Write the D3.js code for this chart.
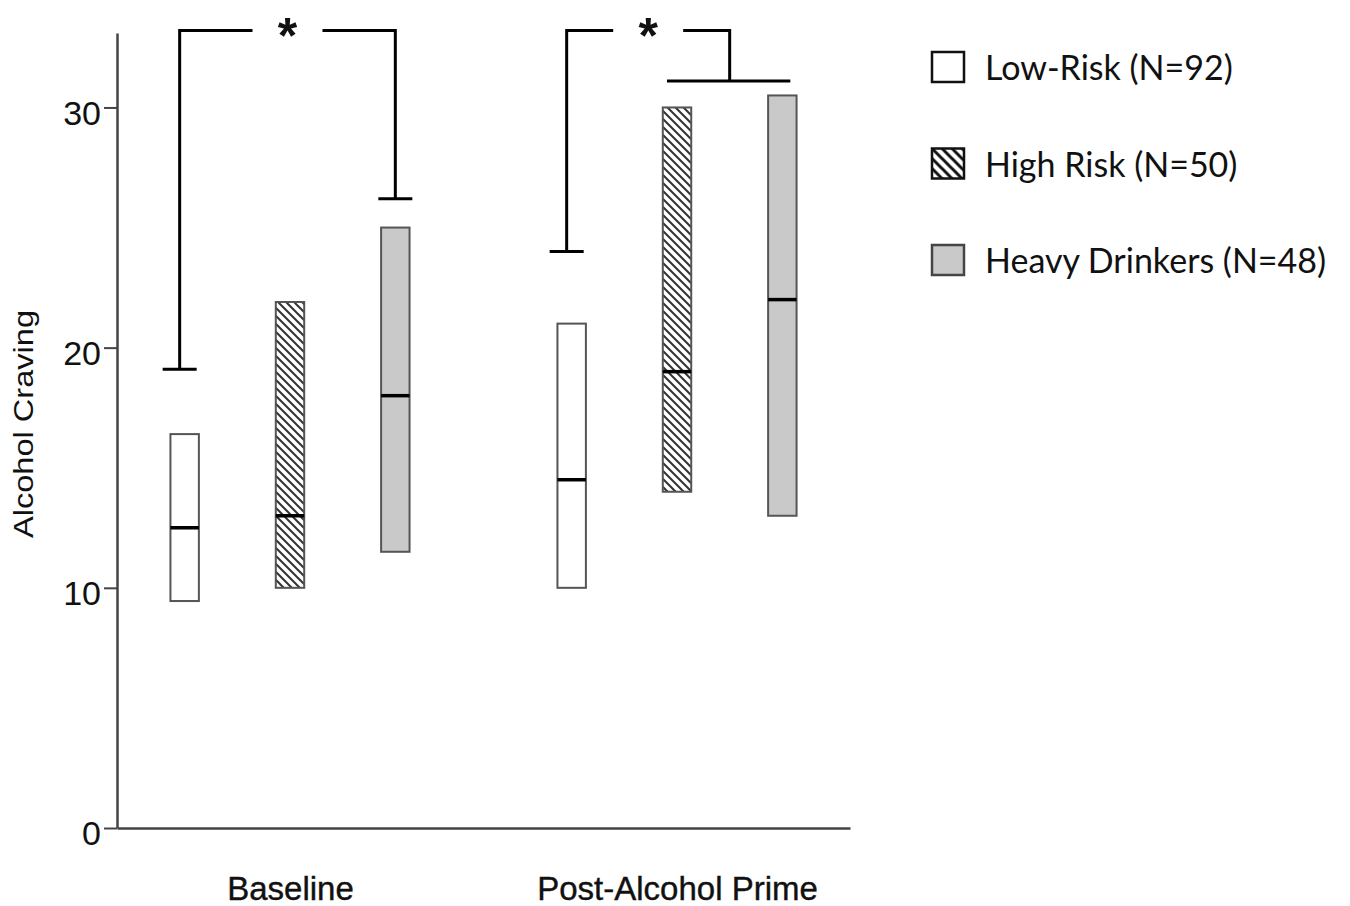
<!DOCTYPE html>
<html>
<head>
<meta charset="utf-8">
<script src="https://cdn.jsdelivr.net/npm/d3@7"></script>
<style>
  body { margin: 0; background: #fff; }
  text { font-family: "Liberation Sans", Arial, sans-serif; fill: #111; }
  .legendText { font-family: Lato, "Open Sans", sans-serif; }
</style>
</head>
<body>
<script>
// categories along the x axis and the three groups inside each
let groups = ["Baseline", "Post-Alcohol Prime"];
let series = ["Low-Risk (N=92)", "High Risk (N=50)", "Heavy Drinkers (N=48)"];

// box values, one row per category, one column per group
let upper  = [[16.4, 21.9, 25.0], [21.0, 30.0, 30.5]];
let median = [[12.5, 13.0, 18.0], [14.5, 19.0, 22.0]];
let lower  = [[9.45, 10.0, 11.5], [10.0, 14.0, 13.0]];

let yTicks = [0, 10, 20, 30];

// significance brackets, one per category
let bracketTop = [33.2, 33.2];
let bracketLeftEnd = [19.1, 24.0];
let bracketRightEnd = [26.2, 31.1];
let bracketRightTo = [["Heavy Drinkers (N=48)"], ["High Risk (N=50)", "Heavy Drinkers (N=48)"]];

let width = 1350;
let height = 906;

let mysvg = d3.select("body").append("svg")
    .attr("width", width)
    .attr("height", height);

let defs = mysvg.append("defs");

// hatch for the bars
let hatch = defs.append("pattern")
    .attr("id", "hatch")
    .attr("patternUnits", "userSpaceOnUse")
    .attr("width", 8).attr("height", 8);
hatch.append("rect").attr("width", 8).attr("height", 8).attr("fill", "#fff");
hatch.append("path")
    .attr("d", "M0,0L8,8M-2,6L2,10M6,-2L10,2")
    .attr("stroke", "#333").attr("stroke-width", 2);

// coarser hatch for the legend swatch
let hatchBig = defs.append("pattern")
    .attr("id", "hatchBig")
    .attr("patternUnits", "userSpaceOnUse")
    .attr("width", 10).attr("height", 10);
hatchBig.append("rect").attr("width", 10).attr("height", 10).attr("fill", "#fff");
hatchBig.append("path")
    .attr("d", "M0,0L10,10M-3,7L3,13M7,-3L13,3")
    .attr("stroke", "#111").attr("stroke-width", 3);

let fills = ["#fff", "url(#hatch)", "#c9c9c9"];
let legendFills = ["#fff", "url(#hatchBig)", "#c9c9c9"];

let xScale = d3.scalePoint()
    .domain(groups)
    .range([117, 850])
    .padding(0.447);

let subScale = d3.scaleBand()
    .domain(series)
    .range([-158, 158])
    .paddingInner(0.73)
    .paddingOuter(0.365);

let yScale = d3.scaleLinear()
    .domain([0, 33.1])
    .range([828, 33]);

let center = (g, s) => xScale(g) + subScale(s) + subScale.bandwidth() / 2;

// flatten into one record per box
let boxes = [];
groups.forEach((g, i) => {
    series.forEach((s, j) => {
        boxes.push({ group: g, series: s, idx: j, hi: upper[i][j], mid: median[i][j], lo: lower[i][j] });
    });
});

let boxGroup = mysvg.append("g");

boxGroup.selectAll("rect.box")
    .data(boxes)
    .enter().append("rect")
    .attr("class", "box")
    .attr("x", d => xScale(d.group) + subScale(d.series))
    .attr("width", subScale.bandwidth())
    .attr("y", d => yScale(d.hi))
    .attr("height", d => yScale(d.lo) - yScale(d.hi))
    .attr("fill", d => fills[d.idx])
    .attr("stroke", "#555")
    .attr("stroke-width", 2);

boxGroup.selectAll("line.median")
    .data(boxes)
    .enter().append("line")
    .attr("class", "median")
    .attr("x1", d => xScale(d.group) + subScale(d.series))
    .attr("x2", d => xScale(d.group) + subScale(d.series) + subScale.bandwidth())
    .attr("y1", d => yScale(d.mid))
    .attr("y2", d => yScale(d.mid))
    .attr("stroke", "#000")
    .attr("stroke-width", 3.5);

// y axis
let yAxis = d3.axisLeft(yScale)
    .tickValues(yTicks)
    .tickSize(13)
    .tickSizeOuter(0)
    .tickPadding(3);
let yAxisGroup = mysvg.append("g")
    .attr("transform", "translate(117,0)")
    .call(yAxis);
yAxisGroup.select(".domain").attr("stroke", "#444").attr("stroke-width", 2.5);
yAxisGroup.selectAll(".tick line").attr("stroke", "#444").attr("stroke-width", 2);
yAxisGroup.selectAll(".tick text")
    .attr("font-size", 34)
    .attr("font-family", "Liberation Sans, Arial, sans-serif")
    .attr("fill", "#111")
    .attr("transform", "translate(0,6)");

// x axis, labels only
let xAxis = d3.axisBottom(xScale)
    .tickSize(0)
    .tickSizeOuter(0)
    .tickPadding(49);
let xAxisGroup = mysvg.append("g")
    .attr("transform", "translate(0,828)")
    .call(xAxis);
xAxisGroup.select(".domain").attr("stroke", "#444").attr("stroke-width", 2.5);
xAxisGroup.selectAll(".tick text")
    .attr("font-size", 33)
    .attr("font-family", "Liberation Sans, Arial, sans-serif")
    .attr("fill", "#111")
    .attr("stroke", "#111")
    .attr("stroke-width", 0.4);

// y axis title
mysvg.append("text")
    .attr("transform", "translate(33,424) rotate(-90)")
    .attr("text-anchor", "middle")
    .attr("font-size", 27)
    .attr("textLength", 228)
    .attr("lengthAdjust", "spacingAndGlyphs")
    .text("Alcohol Craving");

// significance brackets
let bracketGroup = mysvg.append("g")
    .attr("fill", "none")
    .attr("stroke", "#000")
    .attr("stroke-width", 3);

groups.forEach((g, i) => {
    let left = center(g, series[0]) - 5;
    let targets = bracketRightTo[i].map(s => center(g, s));
    let right = d3.mean(targets);
    let mid = (left + right) / 2;
    let yTop = yScale(bracketTop[i]);
    let p = d3.path();
    p.moveTo(left, yScale(bracketLeftEnd[i]));
    p.lineTo(left, yTop);
    p.lineTo(mid - 35, yTop);
    p.moveTo(mid + 35, yTop);
    p.lineTo(right, yTop);
    p.lineTo(right, yScale(bracketRightEnd[i]));
    // end caps
    p.moveTo(left - 17, yScale(bracketLeftEnd[i]));
    p.lineTo(left + 17, yScale(bracketLeftEnd[i]));
    if (targets.length > 1) {
        p.moveTo(d3.min(targets) - 10, yScale(bracketRightEnd[i]));
        p.lineTo(d3.max(targets) + 8, yScale(bracketRightEnd[i]));
    } else {
        p.moveTo(right - 17, yScale(bracketRightEnd[i]));
        p.lineTo(right + 17, yScale(bracketRightEnd[i]));
    }
    bracketGroup.append("path").attr("d", p.toString());

    mysvg.append("text")
        .attr("x", mid)
        .attr("y", yTop + 22)
        .attr("text-anchor", "middle")
        .attr("font-size", 50)
        .attr("font-weight", "bold")
        .attr("fill", "#000")
        .text("*");
});

// legend
let legend = mysvg.append("g").attr("transform", "translate(932,52)");
let legendRows = legend.selectAll("g")
    .data(series)
    .enter().append("g")
    .attr("transform", (d, i) => "translate(0," + (i * 96.5) + ")");
legendRows.append("rect")
    .attr("width", 32)
    .attr("height", 30)
    .attr("fill", (d, i) => legendFills[i])
    .attr("stroke", (d, i) => i == 2 ? "#444" : "#111")
    .attr("stroke-width", 2.5);
legendRows.append("text")
    .attr("class", "legendText")
    .attr("x", 53)
    .attr("y", 28)
    .attr("font-size", 34)
    .text(d => d);
</script>
</body>
</html>
